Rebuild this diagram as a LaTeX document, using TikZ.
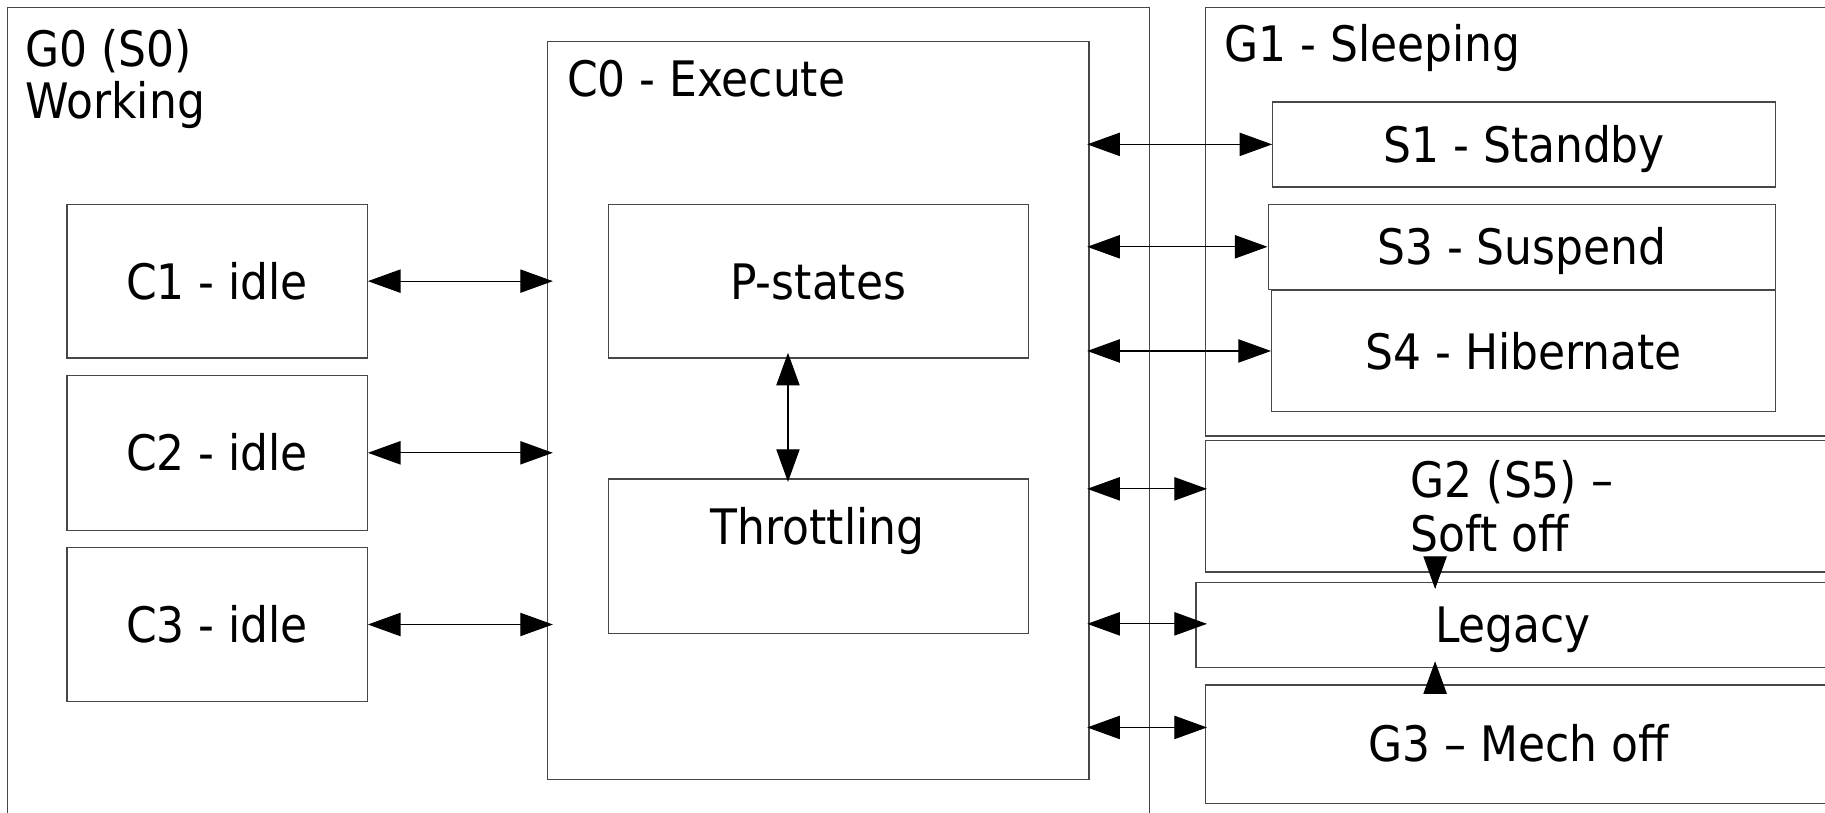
\documentclass[tikz,border=0pt]{standalone}
\usepackage{fontspec}
\setmainfont{DejaVu Sans Condensed}
\usetikzlibrary{arrows.meta,calc}
\begin{document}
\begin{tikzpicture}[x=1pt,y=1pt,
  box/.style={draw=black!72, line width=1.1pt, inner sep=0pt, anchor=north west},
  ctext/.style={font=\fontsize{42}{46}\selectfont, text height=31pt, text depth=0pt},
  lbl/.style={font=\fontsize{42}{46}\selectfont, inner sep=0pt, anchor=base west},
  mlbl/.style={font=\fontsize{42}{45}\selectfont, inner sep=0pt, anchor=north west, align=left},
  darr/.style={{Triangle[length=28pt,width=20pt]}-{Triangle[length=28pt,width=20pt]}, line width=1pt, black},
  sarr/.style={-{Triangle[length=28pt,width=20pt]}, line width=1pt, black}]
\useasboundingbox (0,0) rectangle (1568,-698);
\fill[white] (0,0) rectangle (1568,-698);
\clip (0,0) rectangle (1568,-698);

% G0
\node[box, minimum width=981pt, minimum height=720pt] (g0) at (6,-6) {};
\node[mlbl] (g0lbl) at (22,-25) {G0 (S0)\\Working};
% C0
\node[box, minimum width=465pt, minimum height=634pt] (c0) at (470,-35) {};
\node[lbl] (c0lbl) at (487,-83) {C0 - Execute};
\node[box, ctext, minimum width=361pt, minimum height=132pt] (ps) at (522,-175) {P-states};
\node[box, minimum width=361pt, minimum height=133pt] (th) at (522,-411) {};
\node[font=\fontsize{42}{46}\selectfont, inner sep=0pt, anchor=base] (thlbl) at (702.5,-468) {Throttling};
% C1..C3
\node[box, ctext, minimum width=258pt, minimum height=132pt] (c1) at (57,-175) {C1 - idle};
\node[box, ctext, minimum width=258pt, minimum height=133pt] (c2) at (57,-322) {C2 - idle};
\node[box, ctext, minimum width=258pt, minimum height=132pt] (c3) at (57,-470) {C3 - idle};
% G1
\node[box, minimum width=600pt, minimum height=368pt] (g1) at (1035,-6) {};
\node[lbl] (g1lbl) at (1052,-53) {G1 - Sleeping};
\node[box, ctext, minimum width=432pt, minimum height=73pt] (s1) at (1093,-87) {S1 - Standby};
\node[box, ctext, minimum width=436pt, minimum height=73pt] (s3) at (1089,-175) {S3 - Suspend};
\node[box, ctext, minimum width=433pt, minimum height=104pt] (s4) at (1092,-249) {S4 - Hibernate};
% G2, Legacy, G3
\node[box, minimum width=600pt, minimum height=113pt] (g2) at (1035,-378) {};
\node[mlbl, font=\fontsize{42}{47}\selectfont] (g2lbl) at (1212,-395) {G2 (S5) –\\Soft off};
\node[box, minimum width=600pt, minimum height=73pt] (leg) at (1027,-500) {};
\node[ctext, inner sep=0pt] (leglbl) at (1300,-536.5) {Legacy};
\node[box, minimum width=600pt, minimum height=102pt] (g3) at (1035,-588) {};
\node[ctext, inner sep=0pt] (g3lbl) at (1305,-639) {G3 – Mech off};

% arrows left
\draw[darr, shorten >=-5pt] (c1.east) -- (c1.east -| c0.west);
\draw[darr, shorten >=-5pt] (c2.east) -- (c2.east -| c0.west);
\draw[darr, shorten >=-5pt] (c3.east) -- (c3.east -| c0.west);
% P-states <-> Throttling
\coordinate (pth) at (677,0);
\draw[darr, shorten <=-5pt, shorten >=-3pt] (ps.south -| pth) -- (th.north -| pth);
% arrows right
\draw[darr, shorten <=-2pt] (s1.west -| c0.east) -- (s1.west);
\draw[darr, shorten <=-2pt] (s3.west -| c0.east) -- (s3.west);
\draw[darr, shorten <=-2pt] (s4.west -| c0.east) -- (s4.west);
\coordinate (g2in) at (1037,-420);
\coordinate (legin) at (1037,-536);
\coordinate (g3in) at (1037,-625);
\draw[darr, shorten <=-2pt] (c0.east |- g2in) -- (g2in);
\draw[darr, shorten <=-2pt] (c0.east |- legin) -- (legin);
\draw[darr, shorten <=-2pt] (c0.east |- g3in) -- (g3in);
% G2 -> Legacy, G3 -> Legacy
\coordinate (legx) at (1233,0);
\draw[sarr, shorten <=-13pt, shorten >=-6pt] (g2.south -| legx) -- (leg.north -| legx);
\draw[sarr, shorten <=-7pt, shorten >=-6pt] (g3.north -| legx) -- (leg.south -| legx);
\end{tikzpicture}
\end{document}
